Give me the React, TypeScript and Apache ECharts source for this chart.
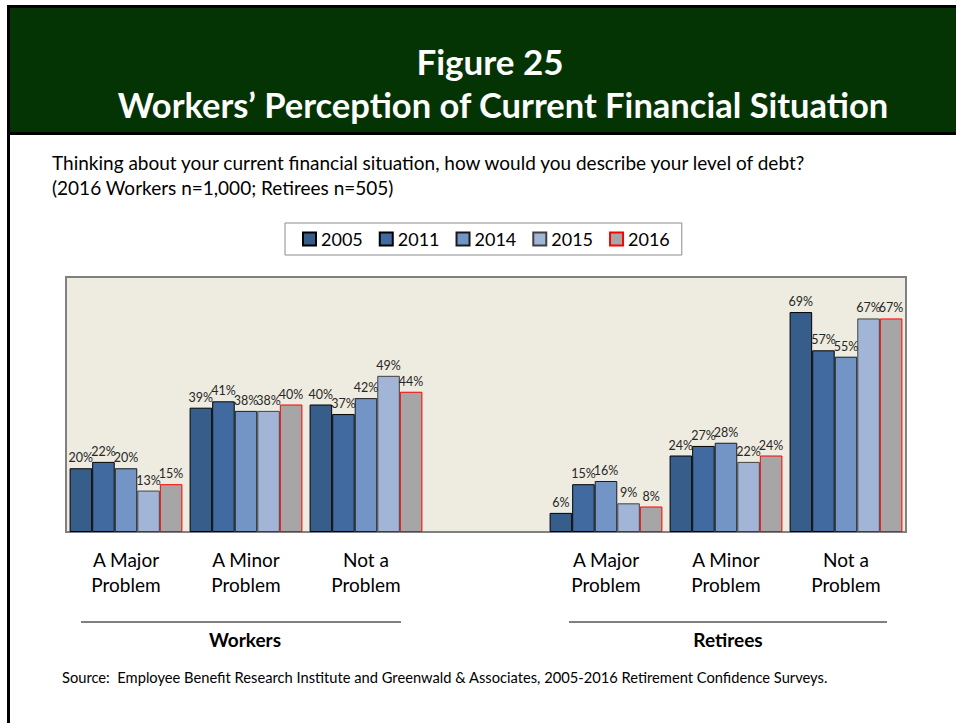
import React, { useEffect, useRef } from "react";
import * as echarts from "echarts";

const categories = [
  "A Major\nProblem",
  "A Minor\nProblem",
  "Not a\nProblem",
  "",
  "A Major\nProblem",
  "A Minor\nProblem",
  "Not a\nProblem",
];
const years = ["2005", "2011", "2014", "2015", "2016"];
// Workers (3 groups), empty spacer, Retirees (3 groups)
const v2005 = [20, 39, 40, null, 6, 24, 69];
const v2011 = [22, 41, 37, null, 15, 27, 57];
const v2014 = [20, 38, 42, null, 16, 28, 55];
const v2015 = [13, 38, 49, null, 9, 22, 67];
const v2016 = [15, 40, 44, null, 8, 24, 67];
const seriesValues = [v2005, v2011, v2014, v2015, v2016];
const fills = ["#375D8A", "#416BA0", "#7395C6", "#A3B5D7", "#A6A6A6"];
const borders = ["#000000", "#000000", "#1a1a1a", "#404040", "#FF0000"];

const titleLine1 = "Figure 25";
const titleLine2 = "Workers\u2019 Perception of Current Financial Situation";
const questionLine1 =
  "Thinking about your current financial situation, how would you describe your level of debt?";
const questionLine2 = "(2016 Workers n=1,000; Retirees n=505)";
const groupNames = ["Workers", "Retirees"];
const sourceText =
  "Source:  Employee Benefit Research Institute and Greenwald & Associates, 2005-2016 Retirement Confidence Surveys.";

const FONT = "Lato, 'Noto Sans', sans-serif";

export default function App() {
  const ref = useRef<HTMLDivElement>(null);
  useEffect(() => {
    if (!ref.current) return;
    const chart = echarts.init(ref.current, undefined, { renderer: "svg" });
    const option: any = {
      animation: false,
      backgroundColor: "#ffffff",
      textStyle: { fontFamily: FONT },
      legend: {
        data: years,
        left: 285,
        top: 223,
        backgroundColor: "#ffffff",
        borderColor: "#8c8c8c",
        borderWidth: 1,
        padding: [7, 12, 7, 17],
        itemWidth: 13,
        itemHeight: 13,
        itemGap: 16,
        icon: "rect",
        textStyle: { fontSize: 18, color: "#000", fontFamily: FONT },
      },
      grid: {
        left: 66,
        right: 50,
        top: 277,
        bottom: 191,
        show: true,
        backgroundColor: "#EEEBE0",
        borderColor: "#808080",
        borderWidth: 2,
      },
      xAxis: {
        type: "category",
        data: categories,
        axisTick: { show: false },
        axisLine: { lineStyle: { color: "#808080", width: 2 } },
        axisLabel: {
          interval: 0,
          fontSize: 19,
          lineHeight: 25,
          color: "#000",
          margin: 15,
          fontFamily: FONT,
        },
      },
      yAxis: {
        type: "value",
        min: 0,
        max: 80,
        show: false,
        splitLine: { show: false },
      },
      series: years.map((y, i) => ({
        name: y,
        type: "bar",
        data: seriesValues[i],
        barGap: "0%",
        barCategoryGap: "6%",
        itemStyle: {
          color: fills[i],
          borderColor: borders[i],
          borderWidth: 1,
        },
        label: {
          show: true,
          position: "top",
          distance: 4,
          formatter: "{c}%",
          fontSize: 12.5,
          color: "#262626",
          fontFamily: FONT,
        },
      })),
      graphic: [
        // outer frame
        {
          type: "rect",
          shape: { x: 8.5, y: 6.5, width: 960, height: 740 },
          style: { fill: "none", stroke: "#000", lineWidth: 3 },
          silent: true,
        },
        {
          type: "rect",
          shape: { x: 10, y: 8, width: 946, height: 125 },
          style: { fill: "#043304" },
          silent: true,
        },
        {
          type: "rect",
          shape: { x: 10, y: 132, width: 946, height: 3 },
          style: { fill: "#000" },
          silent: true,
        },
        {
          type: "text",
          x: 490,
          y: 61,
          style: {
            text: titleLine1,
            fill: "#fff",
            font: `bold 35px ${FONT}`,
            textAlign: "center",
            textVerticalAlign: "middle",
          },
        },
        {
          type: "text",
          x: 503,
          y: 104,
          style: {
            text: titleLine2,
            fill: "#fff",
            font: `bold 34.5px ${FONT}`,
            textAlign: "center",
            textVerticalAlign: "middle",
          },
        },
        {
          type: "text",
          x: 52,
          y: 162,
          style: {
            text: questionLine1,
            fill: "#000",
            font: `19px ${FONT}`,
            textAlign: "left",
            textVerticalAlign: "middle",
          },
        },
        {
          type: "text",
          x: 52,
          y: 187,
          style: {
            text: questionLine2,
            fill: "#000",
            font: `19px ${FONT}`,
            textAlign: "left",
            textVerticalAlign: "middle",
          },
        },
        {
          type: "line",
          shape: { x1: 81, y1: 622, x2: 401, y2: 622 },
          style: { stroke: "#000", lineWidth: 1 },
        },
        {
          type: "line",
          shape: { x1: 569, y1: 622, x2: 887, y2: 622 },
          style: { stroke: "#000", lineWidth: 1 },
        },
        {
          type: "text",
          x: 245,
          y: 639,
          style: {
            text: groupNames[0],
            fill: "#000",
            font: `bold 19px ${FONT}`,
            textAlign: "center",
            textVerticalAlign: "middle",
          },
        },
        {
          type: "text",
          x: 728,
          y: 639,
          style: {
            text: groupNames[1],
            fill: "#000",
            font: `bold 19px ${FONT}`,
            textAlign: "center",
            textVerticalAlign: "middle",
          },
        },
        {
          type: "text",
          x: 62,
          y: 677,
          style: {
            text: sourceText,
            fill: "#000",
            font: `14.7px ${FONT}`,
            textAlign: "left",
            textVerticalAlign: "middle",
          },
        },
      ],
    };
    chart.setOption(option);
    return () => chart.dispose();
  }, []);
  return (
    <div
      style={{
        position: "fixed",
        left: 0,
        top: 0,
        width: 956,
        height: 723,
        background: "#fff",
      }}
    >
      <div ref={ref} style={{ width: 956, height: 723 }} />
    </div>
  );
}
